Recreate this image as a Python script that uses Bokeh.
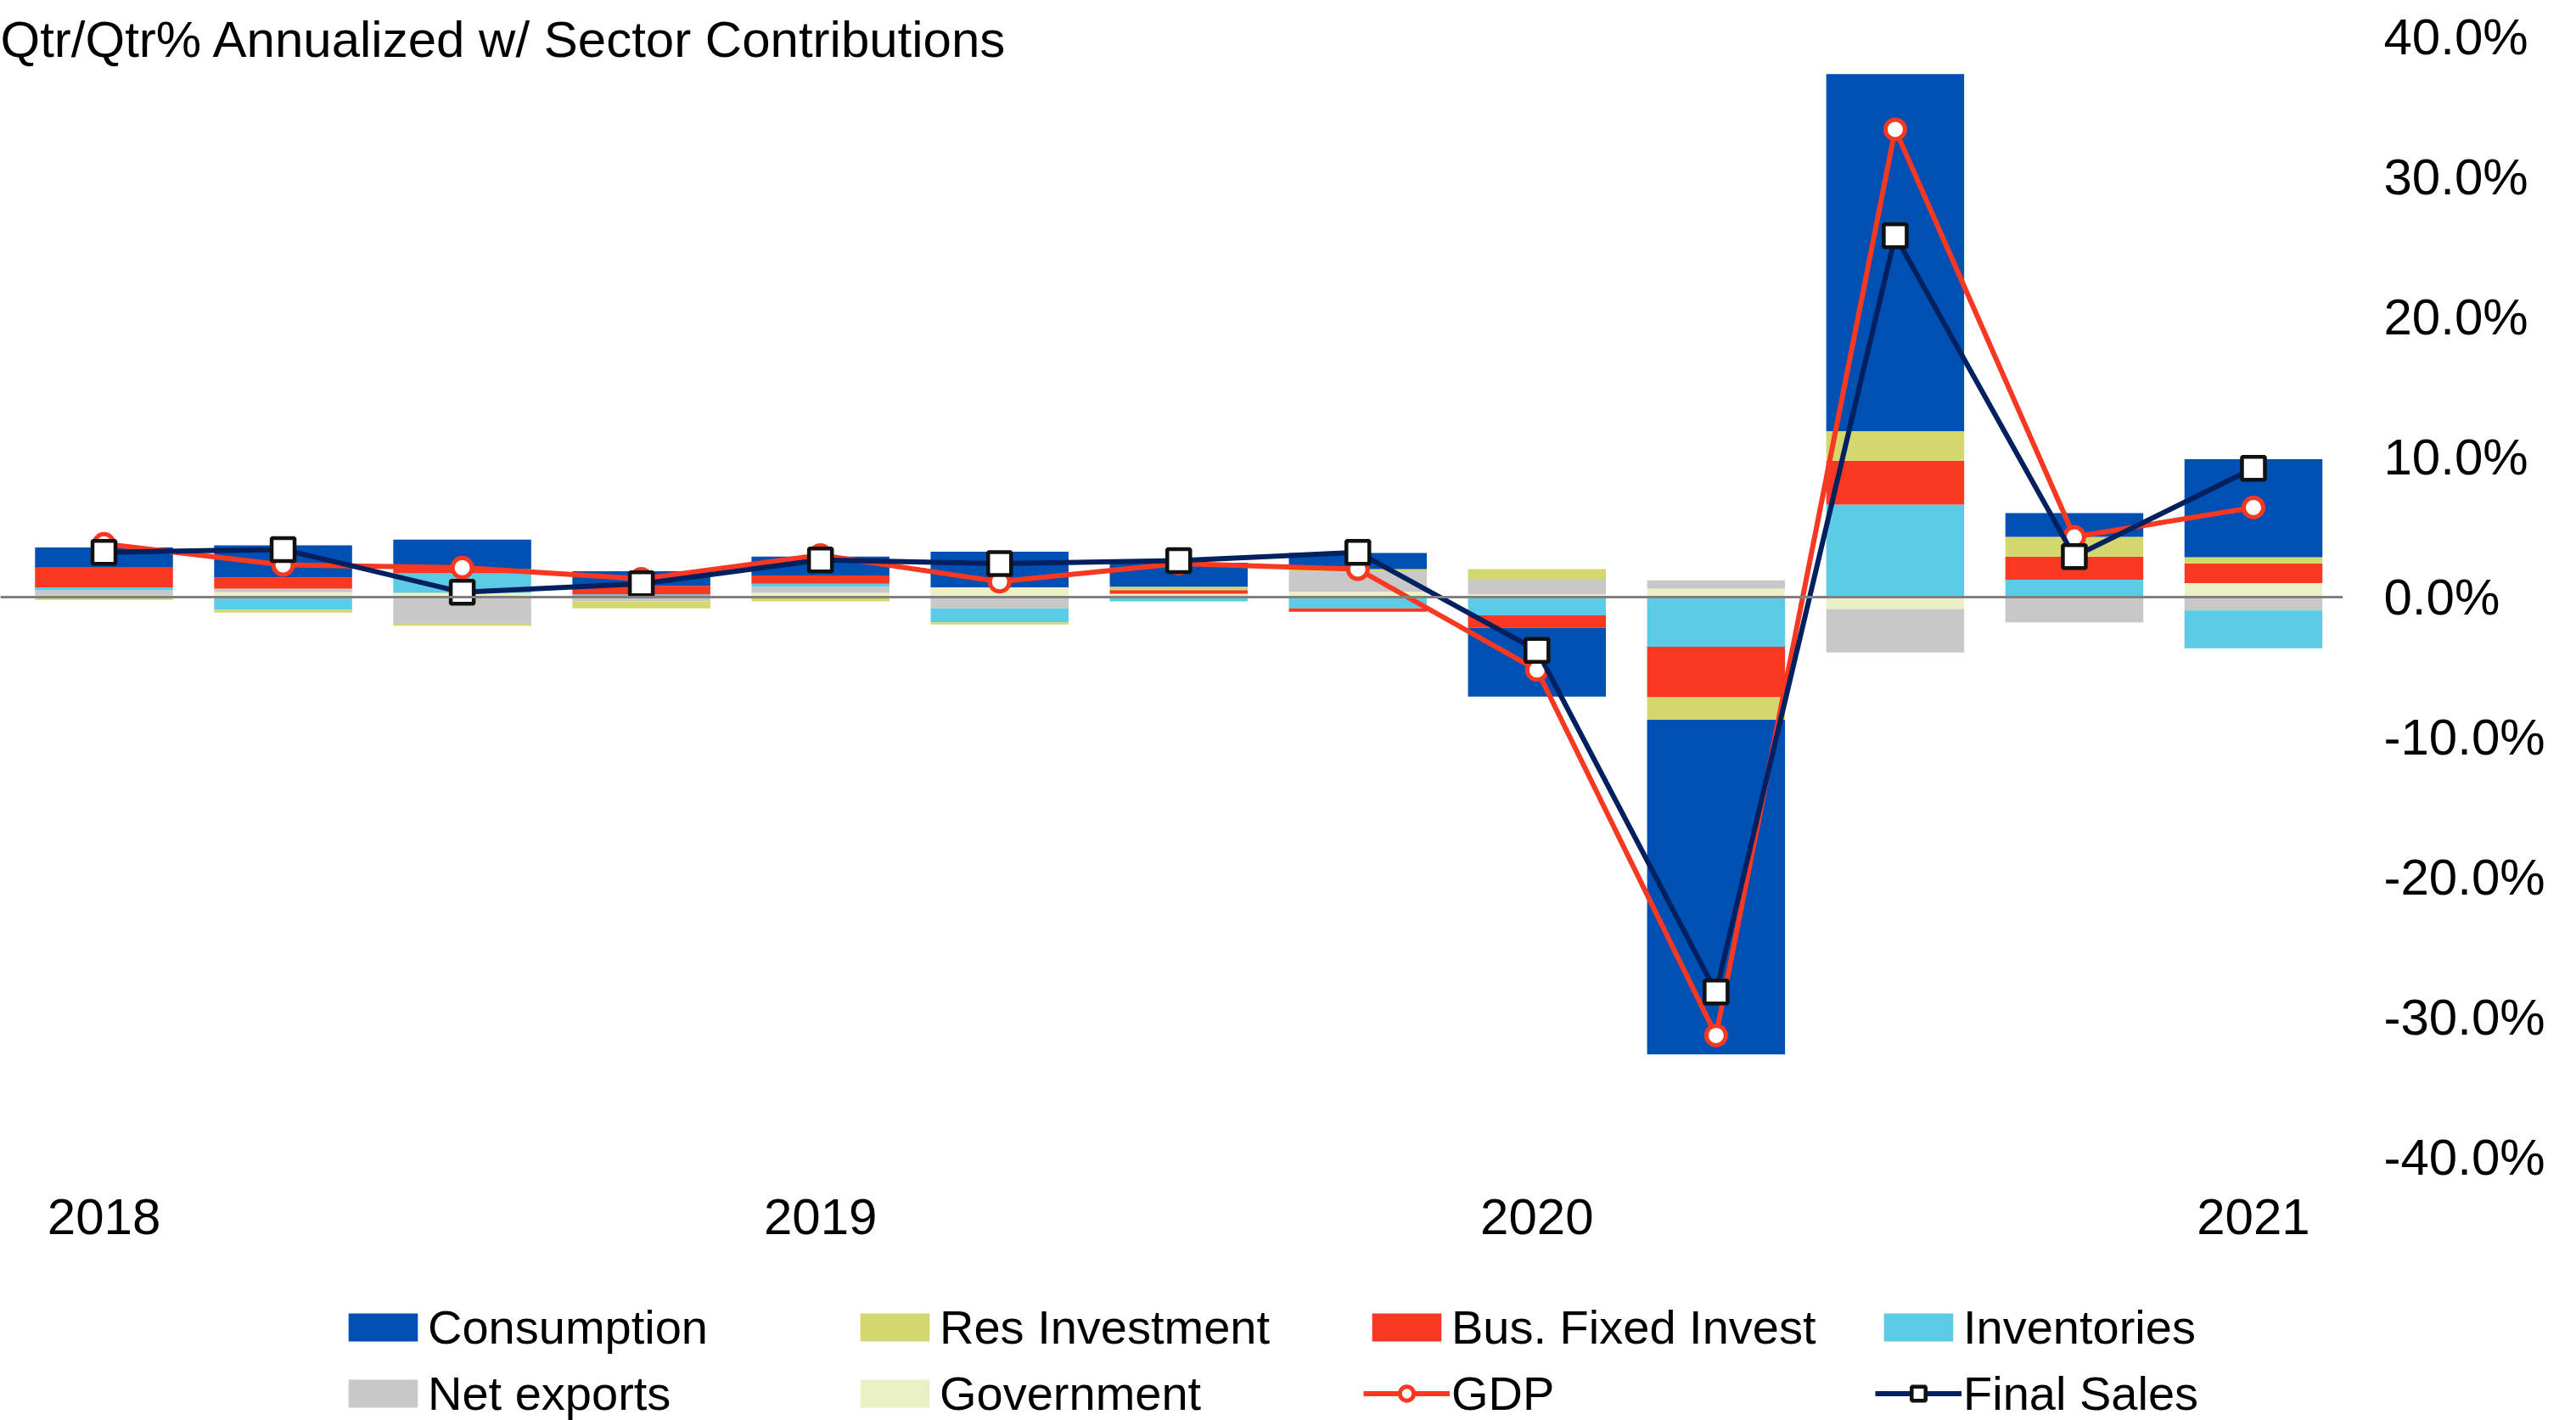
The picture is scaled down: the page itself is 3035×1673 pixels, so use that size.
import numpy as np
from bokeh.plotting import figure
from bokeh.layouts import column
from bokeh.models import (ColumnDataSource, FixedTicker, PrintfTickFormatter,
                          Span, Label, Legend, LegendItem)
from bokeh.embed import file_html
from bokeh.resources import INLINE

# ---------------- data (contributions, % pts, annualized) ----------------
quarters = ["2018Q1", "2018Q2", "2018Q3", "2018Q4",
            "2019Q1", "2019Q2", "2019Q3", "2019Q4",
            "2020Q1", "2020Q2", "2020Q3", "2020Q4", "2021Q1"]

consumption    = [1.45, 2.3, 2.1, 1.05, 1.35, 2.55, 1.7, 1.15, -4.9, -23.9, 25.5, 1.7, 7.0]
res_investment = [-0.2, -0.2, -0.2, -0.5, -0.3, -0.15, 0.25, 0.15, 0.7, -1.6, 2.1, 1.4, 0.45]
bus_fixed      = [1.4, 0.8, 0.3, 0.6, 0.6, 0.0, 0.25, -0.25, -0.9, -3.6, 3.15, 1.65, 1.4]
inventories    = [0.2, -0.9, 1.4, 0.2, 0.2, -1.0, -0.3, -0.8, -1.3, -3.55, 6.6, 1.25, -2.7]
net_exports    = [0.4, 0.25, -1.85, -0.3, 0.45, -0.8, 0.0, 1.45, 1.1, 0.6, -3.1, -1.8, -0.95]
government     = [0.1, 0.35, 0.3, 0.0, 0.3, 0.7, 0.25, 0.4, 0.2, 0.6, -0.85, 0.0, 1.0]

gdp         = [3.8, 2.3, 2.1, 1.3, 3.0, 1.1, 2.4, 2.0, -5.2, -31.3, 33.4, 4.3, 6.4]
final_sales = [3.2, 3.4, 0.35, 0.95, 2.65, 2.4, 2.6, 3.2, -3.8, -28.2, 25.8, 2.9, 9.2]

y_ticks = [-40, -30, -20, -10, 0, 10, 20, 30, 40]
title_text = "Qtr/Qtr% Annualized w/ Sector Contributions"
legend_order = ["Consumption", "Res Investment", "Bus. Fixed Invest", "Inventories",
                "Net exports", "Government", "GDP", "Final Sales"]

# ---------------- colours / fonts ----------------
C_CONS = "#0050B4"
C_RES = "#D4D76E"
C_BUS = "#F83820"
C_INV = "#5BCBE6"
C_NX = "#C8C8C8"
C_GOV = "#EDF0C6"
C_GDP = "#F83820"
C_FS = "#002060"

FONT = "Liberation Sans"

# ---------------- layout (pixels) ----------------
W, H = 3035, 1673
MAIN_H = 1490                 # chart + year labels; the legend strip sits below
FRAME_RIGHT = 2759.5          # right edge of the bar area
PX_PER_CAT = 211.0
PX_PER_PCT = 16.5
ZERO_Y = 703                  # pixel row of the 0% line
FRAME_BOTTOM = int(round(ZERO_Y + 40 * PX_PER_PCT))   # -40% line

n = len(quarters)
x = np.arange(n)
x_end = n - 0.5
x_start = x_end - FRAME_RIGHT / PX_PER_CAT
y_start = -40
y_end = y_start + FRAME_BOTTOM / PX_PER_PCT

p = figure(width=W, height=MAIN_H, x_range=(x_start, x_end), y_range=(y_start, y_end),
           output_backend="svg", toolbar_location=None, y_axis_location="right",
           min_border_left=0, min_border_right=W - int(round(FRAME_RIGHT)),
           min_border_top=0, min_border_bottom=MAIN_H - FRAME_BOTTOM)
p.xgrid.visible = False
p.ygrid.visible = False
p.outline_line_color = None
p.background_fill_color = "white"
p.border_fill_color = "white"

# stacking order from the zero line outward
series = [
    ("Government", government, C_GOV),
    ("Net exports", net_exports, C_NX),
    ("Inventories", inventories, C_INV),
    ("Bus. Fixed Invest", bus_fixed, C_BUS),
    ("Res Investment", res_investment, C_RES),
    ("Consumption", consumption, C_CONS),
]
colors = {name: c for name, _, c in series}
pos = np.zeros(n)
neg = np.zeros(n)
for name, vals, color in series:
    v = np.array(vals, dtype=float)
    bottom = np.where(v >= 0, pos, neg)
    top = bottom + v
    pos = np.where(v >= 0, top, pos)
    neg = np.where(v < 0, top, neg)
    src = ColumnDataSource(dict(x=x, bottom=bottom, top=top))
    p.vbar(x="x", width=0.77, bottom="bottom", top="top", source=src,
           fill_color=color, line_color=None)

p.add_layout(Span(location=0, dimension="width", line_color="#808080", line_width=3))

LINE_W = 6
GDP_M = dict(marker="circle", size=23, fill_color="white", line_color=C_GDP, line_width=5)
FS_M = dict(marker="square", size=27, fill_color="white", line_color="#111111", line_width=4.5)

lsrc = ColumnDataSource(dict(x=x, gdp=gdp, fs=final_sales))
p.line("x", "gdp", source=lsrc, line_color=C_GDP, line_width=LINE_W)
p.scatter("x", "gdp", source=lsrc, **GDP_M)
p.line("x", "fs", source=lsrc, line_color=C_FS, line_width=LINE_W)
p.scatter("x", "fs", source=lsrc, **FS_M)

# ---------------- axes ----------------
year_ticks = [i for i, q in enumerate(quarters) if q.endswith("Q1")]
p.xaxis.ticker = FixedTicker(ticks=year_ticks)
p.xaxis.major_label_overrides = {i: quarters[i][:4] for i in year_ticks}
p.yaxis.ticker = FixedTicker(ticks=y_ticks)
p.yaxis.formatter = PrintfTickFormatter(format="%.1f%%")
for ax in (p.xaxis, p.yaxis):
    ax.axis_line_color = None
    ax.major_tick_line_color = None
    ax.minor_tick_line_color = None
    ax.major_tick_out = 0
    ax.major_tick_in = 0
    ax.major_label_text_font = FONT
    ax.major_label_text_font_size = "60px"
    ax.major_label_text_color = "#000000"
p.xaxis.major_label_standoff = 1433 - 21 - FRAME_BOTTOM
p.yaxis.major_label_standoff = 48

# ---------------- title (inside the frame, top-left) ----------------
p.add_layout(Label(x=0, y=FRAME_BOTTOM - 46, x_units="screen", y_units="screen",
                   text=title_text, text_font=FONT, text_font_size="60px",
                   text_color="#000000", text_baseline="middle", text_align="left"))

# ---------------- legend strip (separate figure, placeholder NaN glyphs) ----------------
LEG_H = H - MAIN_H
pl = figure(width=W, height=LEG_H, x_range=(0, 1), y_range=(0, 1),
            output_backend="svg", toolbar_location=None,
            x_axis_location=None, y_axis_location=None, min_border=0)
pl.xgrid.visible = False
pl.ygrid.visible = False
pl.outline_line_color = None
pl.background_fill_color = "white"
pl.border_fill_color = "white"

nan_src = ColumnDataSource(dict(x=[np.nan], y=[np.nan]))
leg_r = {}
for name in legend_order[:6]:
    leg_r[name] = [pl.vbar(x="x", top="y", width=0.5, source=nan_src,
                           fill_color=colors[name], line_color=None)]
leg_r["GDP"] = [pl.line("x", "y", source=nan_src, line_color=C_GDP, line_width=LINE_W),
                pl.scatter("x", "y", source=nan_src, **GDP_M)]
leg_r["Final Sales"] = [pl.line("x", "y", source=nan_src, line_color=C_FS, line_width=LINE_W),
                        pl.scatter("x", "y", source=nan_src, **FS_M)]

items = [LegendItem(label=name, renderers=leg_r[name]) for name in legend_order]
legend = Legend(items=items, location=(400, -2), orientation="horizontal", ncols=4,
                glyph_width=102, glyph_height=41, label_width=488, label_height=67,
                label_standoff=2, spacing=11, padding=0, margin=0,
                border_line_color=None, background_fill_alpha=0,
                label_text_font=FONT, label_text_font_size="56px",
                label_text_color="#000000")
pl.add_layout(legend)

layout = column(p, pl, spacing=0)
open("out.html", "w").write(file_html(layout, INLINE))
